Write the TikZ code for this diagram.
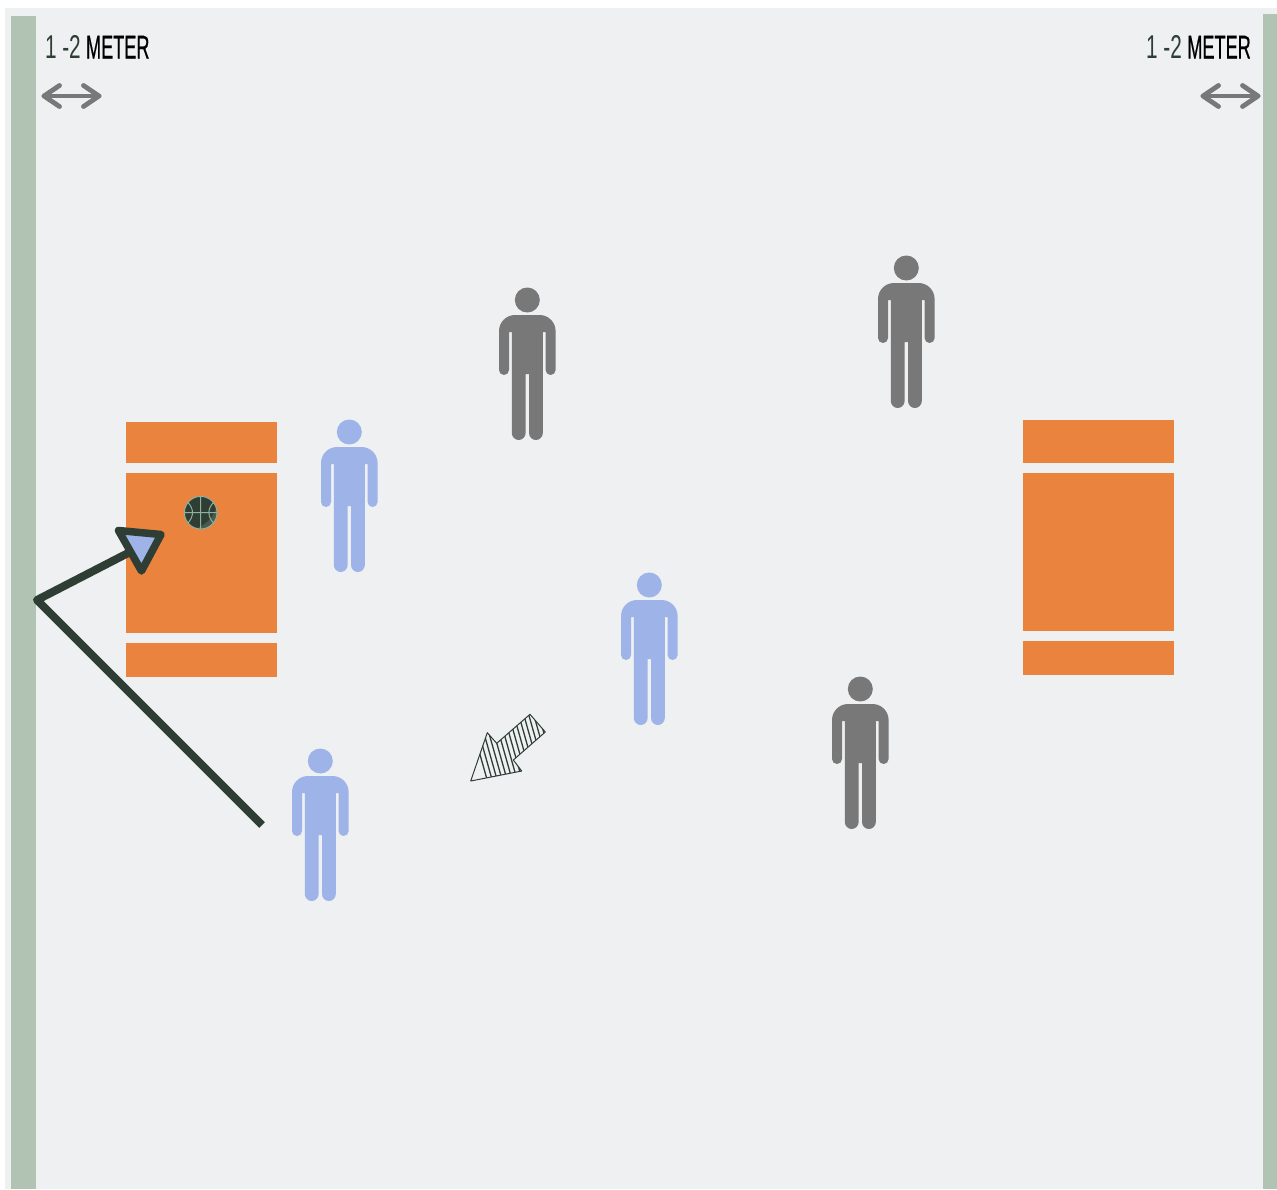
\documentclass[tikz,border=0pt]{standalone}
\usepackage{fontspec}
\setmainfont{Liberation Sans}
\newfontfamily\meterfont[FakeBold=0.7]{Liberation Sans}
\definecolor{panel}{HTML}{EEF0F2}
\definecolor{wall}{HTML}{B1C4B4}
\definecolor{court}{HTML}{EA833E}
\definecolor{figgrey}{HTML}{787878}
\definecolor{figblue}{HTML}{9EB3E8}
\definecolor{darkgreen}{HTML}{2F3E34}
\definecolor{balllight}{HTML}{8FB09C}
\tikzset{
  x=1pt,y=-1pt,
  wallbar/.style={fill=wall,draw=none},
  courtbar/.style={fill=court,draw=none},
  measure/.style={draw=figgrey,line width=4.8pt,line cap=round,line join=round},
  run/.style={draw=darkgreen,line width=8pt,line join=round},
  tip/.style={draw=darkgreen,line width=7.5pt,line join=round,fill=figblue},
  numlabel/.style={inner sep=0pt,outer sep=0pt,anchor=base west,xscale=.63,text=darkgreen,font=\fontsize{33}{33}\selectfont},
  unitlabel/.style={inner sep=0pt,outer sep=0pt,anchor=base west,xscale=.55,text=black,font=\fontsize{33}{33}\meterfont},
  person/.pic={
    \fill[pic actions] (0,0) circle[radius=12.5];
    \fill[pic actions] (-18.3,32) -- (-15.5,32) -- (-15.5,133)
      .. controls (-15.5,136.8) and (-12.4,140) .. (-8.6,140)
      .. controls (-4.8,140) and (-1.7,136.8) .. (-1.7,133) -- (-1.7,74) -- (1.7,74) -- (1.7,133)
      .. controls (1.7,136.8) and (4.8,140) .. (8.6,140)
      .. controls (12.4,140) and (15.5,136.8) .. (15.5,133) -- (15.5,32) -- (18.3,32) -- (18.3,70)
      .. controls (18.3,72.8) and (20.5,75) .. (23.3,75)
      .. controls (26.1,75) and (28.3,72.8) .. (28.3,70) -- (28.3,31)
      .. controls (28.3,22.2) and (21.1,15) .. (12.3,15) -- (-12.3,15)
      .. controls (-21.1,15) and (-28.3,22.2) .. (-28.3,31) -- (-28.3,70)
      .. controls (-28.3,72.8) and (-26.1,75) .. (-23.3,75)
      .. controls (-20.5,75) and (-18.3,72.8) .. (-18.3,70) -- cycle;
  }
}
\begin{document}
\begin{tikzpicture}
\useasboundingbox (0,0) rectangle (1277,1189);
\fill[white] (0,0) rectangle (1277,1189);
\fill[panel] (5,8) rectangle (1277,1189);
\fill[wallbar] (11,16) rectangle (36,1189);
\fill[wallbar] (1263,14) rectangle (1277,1189);
% courts
\fill[courtbar] (126,422) rectangle (277,463);
\fill[courtbar] (126,473) rectangle (277,633);
\fill[courtbar] (126,643) rectangle (277,677);
\fill[courtbar] (1023,420) rectangle (1174,463);
\fill[courtbar] (1023,473) rectangle (1174,631);
\fill[courtbar] (1023,641) rectangle (1174,675);
% labels
\node[numlabel] (numL) at (45,58.5) {1 -2};
\node[unitlabel] (unitL) at (86,58.5) {METER};
\node[numlabel] (numR) at (1146,58.5) {1 -2};
\node[unitlabel] (unitR) at (1187.3,58.5) {METER};
% measure arrows
\draw[measure] (44,96) -- (99,96);
\draw[measure] (59.5,85.5) -- (44,96) -- (59.5,106.5);
\draw[measure] (83.5,85.5) -- (99,96) -- (83.5,106.5);
\draw[measure] (1203,96) -- (1258,96);
\draw[measure] (1218.5,85.5) -- (1203,96) -- (1218.5,106.5);
\draw[measure] (1242.5,85.5) -- (1258,96) -- (1242.5,106.5);
% people
\foreach \px/\py in {527.3/300,906.3/268,860.3/689}
  \pic[fill=figgrey] at (\px,\py) {person};
\foreach \px/\py in {349.3/432,649.3/585,320.3/761}
  \pic[fill=figblue] at (\px,\py) {person};
% ball
\fill[darkgreen] (200.7,512.7) circle[radius=16.3];
\begin{scope}
  \clip (200.7,512.7) circle[radius=16.3];
  \fill[darkgreen!75!balllight] (217,505) .. controls (214,518) and (205,526) .. (192,530) -- (220,532) -- cycle;
\end{scope}
\draw[balllight,line width=1pt] (200.7,512.7) circle[radius=16.3]
  (184.4,512.7) -- (217,512.7) (200.7,496.4) -- (200.7,529)
  (188,502.5) .. controls (194,509) and (194,516) .. (188,523)
  (213.4,502.5) .. controls (207.4,509) and (207.4,516) .. (213.4,523);
% run line
\coordinate (runA) at (262,825);
\coordinate (runB) at (37,600);
\coordinate (runC) at (132,551);
\draw[run] (runA) -- (runB) -- (runC);
\draw[tip] (118.5,530.5) -- (161,534.5) -- (141.5,571) -- cycle;
% hatched arrow
\begin{scope}
  \clip (530,714.3) -- (545.3,732) -- (513.3,760) -- (521.7,771) -- (470.7,781) -- (487.3,732.7) -- (496.7,743.3) -- cycle;
  \foreach \k in {0,...,22}
    \draw[darkgreen,line width=1.3pt] ({466+\k*5},705) -- ({490+\k*5},790);
\end{scope}
\draw[darkgreen,line width=1pt,line join=round] (530,714.3) -- (545.3,732) -- (513.3,760) -- (521.7,771) -- (470.7,781) -- (487.3,732.7) -- (496.7,743.3) -- cycle;
\end{tikzpicture}
\end{document}
